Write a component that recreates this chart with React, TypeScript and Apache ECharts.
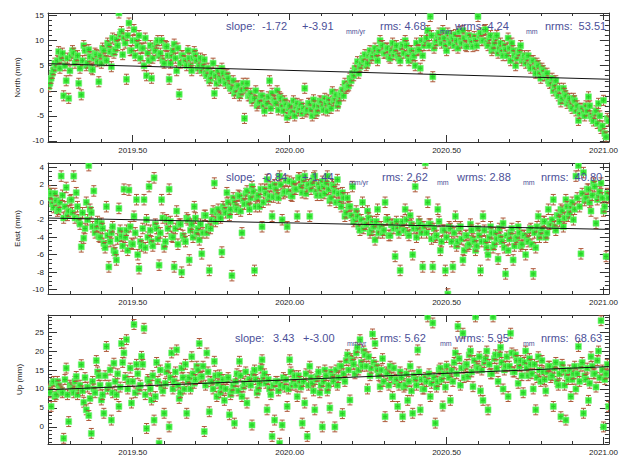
import React, { useEffect, useRef } from 'react';
import * as echarts from 'echarts';

// ---- time sampling (decimal years) ----
const T0 = 2019.232;
const STEP = 0.008;
const X_MIN = 2019.23;
const X_MAX = 2021.017;

const xTickValues = [2019.5, 2020.0, 2020.5, 2021.0];
const xMinorValues = [2019.3, 2019.4, 2019.6, 2019.7, 2019.8, 2019.9, 2020.1, 2020.2, 2020.3, 2020.4, 2020.6, 2020.7, 2020.8, 2020.9];

// ---- North (mm): samples at T0 + k*STEP ----
const northValues = [
  0.8, 2.5, 4.2, 5.0, 7.8, 6.5, -1.0, 2.0, -1.5, 7.0,
  7.5, 6.2, 1.5, -0.8, 9.0, 5.0, 8.2, 4.5, 6.5, 7.2,
  1.8, 5.5, 8.0, 6.0, 9.0, 4.8, 7.5, 10.2, 15.5, 11.8,
  10.5, 2.3, 13.5, 8.0, 12.2, 10.0, 11.0, 8.5, 5.0, 3.0,
  6.0, 2.5, 8.5, 9.5, 7.0, 10.0, 5.5, 8.8, 2.3, 7.0,
  9.3, 4.0, -0.7, 7.0, 6.0, 5.0, 6.5, 4.0, 7.8, 6.0,
  5.0, 4.0, 6.2, 3.0, 2.0, 3.5, -0.5, 1.5, 2.5, 4.5,
  2.0, 3.2, 1.0, 0.5, -0.5, 0.8, -1.0, 0.2, -5.5, 1.5,
  -1.0, -2.0, -1.5, -3.0, -2.2, -1.0, -4.0, -2.5, 2.0, -0.5,
  -2.0, 0.0, -1.2, -3.0, -2.0, -5.3, -3.0, -4.2, -5.0, -2.5,
  -3.5, -4.5, 0.5, -3.8, -2.5, -5.0, -3.0, -4.0, -2.0, -3.2,
  -1.5, -4.0, -2.8, -0.2, -1.5, -3.0, -1.0, 0.2, 1.5, 0.8,
  2.5, 3.5, 4.5, 5.8, 4.8, 6.5, 7.2, 5.5, 8.0, 7.0,
  8.5, 6.0, 10.0, 9.0, 7.5, 8.5, 6.5, 9.5, 8.0, 7.0,
  6.0, 9.2, 10.0, 7.0, 8.0, 6.5, 5.0, 8.0, 4.5, 7.0,
  10.0, 12.0, 14.8, 2.8, 9.5, 11.0, 10.2, 12.0, 9.0, 11.5,
  9.5, 10.5, 11.2, 8.5, 10.0, 12.0, 9.0, 11.0, 10.2, 8.8,
  10.0, 14.8, 11.5, 10.0, 12.2, 9.0, 11.0, 8.5, 10.5, 7.5,
  9.5, 7.0, 8.2, 10.5, 6.0, 8.0, 5.0, 7.5, 9.0, 6.5,
  5.5, 7.0, 4.5, 6.0, 3.5, 5.0, 2.5, 4.0, 3.0, 2.0,
  1.5, 0.0, 2.0, -1.0, -2.2, 0.5, -1.0, -2.0, -3.0, -1.5,
  -4.0, -5.9, -3.5, -4.5, -3.0, -1.2, -5.0, -6.0, -4.0, -2.5,
  -7.5, -1.9, -9.2, -6.0,
];
// ---- North (mm): samples at T0 + STEP/2 + k*STEP ----
const northValuesB = [
  1.5, 3.5, 5.5, 6.0, 4.5, 7.5, 5.0, 6.5, 4.0, 8.0,
  5.5, 7.0, 4.5, 6.0, 8.0, 5.5, 6.8, 4.2, 7.5, 5.8,
  7.0, 8.5, 6.5, 9.5, 7.8, 10.5, 8.2, 9.0, 11.2, 7.2,
  9.5, 11.0, 8.0, 10.0, 7.0, 9.0, 6.5, 8.5, 10.5, 7.5,
  9.0, 6.5, 8.0, 10.0, 7.5, 6.0, 9.0, 7.0, 5.5, 8.0,
  6.5, 8.5, 5.5, 7.0, 6.0, 8.0, 5.0, 6.5, 7.0, 4.5,
  6.5, 5.0, 3.5, 4.5, 2.5, 5.5, 3.0, 4.0, 2.0, 3.5,
  1.5, 2.5, 0.5, 2.0, 0.0, 1.0, -0.5, 1.5, 0.5, -1.0,
  -0.5, -1.5, 0.0, -2.5, -1.0, -3.0, -2.0, -1.2, -3.5, -1.8,
  -2.5, -3.8, -1.5, -4.0, -2.8, -3.5, -4.5, -2.0, -3.2, -4.0,
  -2.8, -3.5, -4.2, -2.5, -3.8, -1.8, -4.5, -3.0, -2.2, -3.8,
  -2.5, -1.8, -3.5, -2.0, -0.8, -2.2, -0.5, -1.0, 0.5, 1.0,
  2.0, 3.0, 4.0, 3.5, 5.5, 6.0, 5.0, 7.0, 6.5, 7.8,
  7.0, 8.0, 9.0, 7.5, 8.5, 6.8, 8.0, 7.2, 9.0, 6.5,
  8.5, 7.5, 9.0, 6.0, 8.0, 7.0, 9.5, 8.2, 10.0, 9.0,
  10.5, 9.0, 11.0, 8.5, 10.0, 11.5, 9.5, 10.5, 8.0, 10.0,
  11.0, 9.0, 10.0, 11.8, 9.5, 10.5, 8.8, 11.0, 9.8, 10.8,
  9.0, 11.0, 10.0, 12.0, 9.5, 10.5, 8.0, 9.5, 11.0, 8.5,
  8.0, 9.0, 7.0, 8.5, 9.5, 7.0, 6.5, 8.0, 6.0, 7.0,
  6.5, 5.0, 6.0, 4.5, 5.5, 3.5, 4.5, 3.0, 3.5, 1.5,
  2.5, 1.0, -0.5, 0.5, -1.5, -0.5, -2.5, -1.5, -3.5, -2.0,
  -3.0, -4.5, -3.5, -5.0, -4.0, -3.0, -5.5, -4.5, -6.5, -5.0,
  -7.0, -8.5, -5.5,
];
const northTrend = [5.4, 2.3];
const northYTicks = [-10, -5, 0, 5, 10, 15];

// ---- East (mm) ----
const eastValues = [
  1.3, 1.0, -0.6, 0.2, -0.8, 3.0, -1.8, 1.7, -1.0, 0.3,
  3.0, 1.1, -2.0, -5.1, -4.1, 0.0, 4.2, -1.2, 1.3, -2.8,
  -3.9, -2.4, -4.7, -0.5, -7.4, -3.5, -5.5, -6.6, -0.7, -3.9,
  1.5, -3.2, 1.4, -4.7, -1.6, 0.3, -7.6, -5.0, 0.3, -2.0,
  1.8, -4.5, 2.8, -3.0, -7.2, 0.3, -5.1, -2.0, 1.5, -3.9,
  -7.4, -1.0, -2.5, -8.0, -4.2, -1.8, -6.6, -2.5, -0.5, -3.5,
  -4.3, -5.9, -1.5, -3.5, -7.8, -2.0, 2.2, -1.2, -1.6, -5.7,
  -0.8, 1.1, -1.5, -8.4, 0.0, -0.8, 0.7, -3.5, -0.2, 1.3,
  -0.8, 1.8, -7.8, 0.5, -0.5, -2.8, 1.5, 2.6, 0.7, -1.6,
  2.0, 0.8, 3.0, -2.0, 1.2, -2.8, 2.4, 0.7, 1.5, -1.6,
  2.8, 1.1, 3.0, 1.8, -1.6, 2.2, 3.0, 0.8, 1.6, 2.4,
  1.0, 3.0, 0.2, 2.0, 1.2, 2.6, 0.0, 1.1, -1.6, 0.5,
  -0.5, 1.8, -2.0, -1.6, -3.2, 0.0, -2.5, -1.0, -3.5, -2.2,
  -4.3, -0.8, -2.8, -3.5, 0.0, -2.0, -3.8, -2.5, -6.2, -3.0,
  -7.8, -2.2, -0.8, -3.5, -1.5, -6.0, 1.8, -3.0, -2.5, -7.4,
  4.5, 0.0, -2.5, -7.4, -4.0, -0.8, -5.5, -3.2, -7.8, -10.5,
  -3.0, -7.4, -1.6, -4.5, -2.8, -6.6, -3.8, -5.0, -2.5, -4.2,
  -5.5, -3.0, -7.8, -1.6, -4.5, -6.0, -2.8, -5.2, -3.5, -6.5,
  -4.0, -2.4, -8.2, -5.5, -3.5, -6.6, -4.2, -2.8, -5.0, -3.8,
  -6.0, -4.5, -3.0, -8.2, -5.2, -1.6, -3.5, -2.2, -4.0, -0.8,
  -2.5, 0.3, -3.2, -1.5, -0.8, -2.8, 0.3, -1.6, -0.5, -2.0,
  3.0, 4.2, -5.9, 3.4, 0.5, 1.5, -1.0, 2.2, -2.4, 0.8,
  2.2, -1.0, -6.2, 0.5,
];
const eastValuesB = [
  0.5, -0.2, 1.0, -1.0, 0.0, 0.8, -0.5, -1.5, 0.2, -1.2,
  -1.8, -0.5, -2.5, -1.2, -3.0, -2.0, -0.8, -2.8, -3.5, -2.2,
  -4.0, -3.0, -5.2, -3.8, -4.5, -2.8, -5.8, -4.2, -3.2, -5.0,
  -4.0, -5.5, -2.8, -4.8, -3.5, -6.0, -4.5, -3.0, -5.2, -4.0,
  -3.2, -5.0, -2.5, -4.2, -3.5, -1.8, -4.5, -3.0, -2.2, -4.0,
  -3.0, -4.8, -2.5, -3.8, -4.5, -2.0, -3.2, -4.0, -1.8, -3.0,
  -2.5, -3.5, -1.5, -2.8, -3.0, -1.0, -2.2, -0.8, -1.8, -0.5,
  -1.2, 0.0, -0.8, 0.5, -0.5, 0.8, -1.0, 0.2, 1.0, -0.2,
  0.5, 1.2, -0.5, 0.8, 1.5, 0.0, 1.0, 0.3, 1.8, 0.6,
  1.5, 0.5, 2.0, 1.0, 2.5, 1.2, 0.8, 2.2, 1.5, 2.8,
  1.8, 2.5, 1.0, 2.0, 1.5, 2.8, 1.2, 2.0, 0.8, 1.8,
  2.2, 1.5, 0.5, 1.8, 0.0, 1.0, -0.5, 0.5, -1.2, -0.5,
  -1.5, -2.2, -1.0, -2.8, -2.0, -3.0, -2.5, -1.8, -3.2, -2.8,
  -2.2, -3.5, -2.8, -3.2, -2.0, -3.8, -2.6, -3.0, -2.2, -3.5,
  -2.8, -3.2, -2.0, -3.8, -2.5, -3.0, -4.0, -2.2, -3.5, -2.8,
  -3.5, -2.5, -4.2, -3.0, -3.8, -2.2, -4.5, -3.2, -4.0, -2.8,
  -4.5, -3.5, -5.0, -3.0, -4.2, -5.5, -3.8, -4.8, -3.2, -4.5,
  -5.0, -3.8, -4.5, -3.2, -5.2, -4.0, -3.5, -4.8, -4.2, -3.0,
  -4.5, -5.2, -3.8, -4.2, -3.0, -5.0, -4.0, -3.5, -4.8, -3.8,
  -4.2, -3.2, -4.8, -3.5, -2.8, -4.0, -3.0, -2.2, -3.5, -2.5,
  -2.0, -2.8, -1.5, -2.2, -1.0, -1.8, -0.5, -1.2, 0.0, -0.8,
  0.5, -0.5, 1.0, 0.2, 1.5, 0.0, 0.8, 1.8, 0.3, 1.2,
  0.5, -0.5, 1.0,
];
const eastTrend = [-1.8, -3.1];
const eastYTicks = [-10, -8, -6, -4, -2, 0, 2, 4];

// ---- Up (mm) ----
const upValues = [
  10.0, 5.4, 12.0, 8.5, 11.0, 9.5, -3.0, 15.5, 1.4, 10.5,
  9.0, 13.3, 10.2, 16.4, 6.5, 4.5, 3.0, -1.7, 10.0, 17.5,
  13.5, 7.1, 3.6, 21.2, 11.0, 1.8, 16.8, 8.5, 5.4, 22.0,
  19.5, 23.0, 12.0, 6.3, 27.0, 16.5, 10.0, 18.6, 26.0, -0.4,
  12.0, 7.1, 1.8, 17.0, -4.3, 10.5, 3.6, 14.5, 0.0, 19.5,
  12.0, 20.3, 7.5, 15.5, 10.0, 3.6, 13.0, 18.5, 11.5, 16.0,
  22.0, 13.3, -1.2, 19.5, 4.0, 12.0, 17.3, 8.0, 13.7, 10.5,
  7.0, 12.5, 3.2, 9.5, 1.0, 14.0, 17.3, 8.0, 11.5, 6.3,
  12.5, 0.5, 15.0, 9.0, 11.5, 17.7, 14.0, 4.5, 10.0, -2.5,
  1.8, 12.0, -4.3, 0.5, 10.5, 5.4, 17.7, 11.0, 13.5, 8.0,
  12.0, 1.0, 6.3, -2.5, 16.0, 11.5, 4.5, 13.3, 9.0, 0.0,
  15.0, 9.5, 5.0, 13.3, 0.0, 11.0, 16.0, 3.5, 12.0, 19.0,
  7.1, 17.5, 14.0, 21.0, 23.0, 16.0, 19.0, 10.0, 13.5, 24.5,
  22.0, 15.0, 10.6, 18.0, 2.7, 14.0, 16.0, 8.0, 12.0, 5.4,
  14.5, 2.7, 11.0, 7.0, 16.0, 3.6, 12.5, 20.3, 4.5, 10.0,
  13.0, 29.0, 8.0, 27.4, 1.0, 12.0, 15.5, 5.5, 10.5, 14.0,
  7.0, 12.0, 19.5, 26.5, 11.0, 24.7, 16.0, 13.3, 20.0, 10.6,
  29.0, 15.5, 9.5, 7.0, 18.0, 4.5, 14.0, 29.0, 19.0, 12.0,
  21.0, 10.0, 16.0, 8.0, 24.7, 14.5, 19.0, 11.5, 17.5, 9.0,
  20.0, 13.5, 16.5, 10.0, 4.5, 18.5, 12.0, 14.5, 9.5, 16.0,
  13.0, 5.4, 17.0, 11.0, 2.7, 15.0, 1.8, 12.5, 8.0, 14.0,
  10.0, 21.2, 16.0, 3.6, 12.5, 7.0, 18.5, 14.0, 10.5, 20.0,
  28.0, 0.0, 14.0, 5.4,
];
const upValuesB = [
  9.0, 11.5, 8.0, 12.0, 10.0, 9.0, 12.5, 8.5, 11.0, 10.0,
  12.0, 8.5, 11.0, 9.5, 13.0, 10.5, 7.5, 12.0, 9.0, 14.5,
  11.0, 8.5, 13.5, 10.0, 15.0, 9.0, 12.0, 14.0, 10.5, 17.0,
  13.0, 10.0, 15.5, 12.0, 9.0, 14.0, 11.0, 16.5, 8.5, 12.5,
  10.0, 13.5, 8.0, 12.0, 15.0, 9.5, 11.5, 16.0, 13.0, 10.0,
  14.5, 11.0, 9.0, 13.0, 16.5, 12.0, 10.0, 14.0, 12.5, 15.0,
  13.0, 16.0, 11.0, 14.5, 12.0, 10.0, 13.5, 11.5, 9.0, 12.5,
  10.0, 13.0, 8.5, 11.0, 12.0, 9.5, 13.5, 10.5, 14.5, 12.0,
  11.0, 14.0, 12.5, 10.0, 15.5, 13.0, 11.5, 12.5, 8.5, 11.0,
  12.0, 9.5, 11.0, 13.0, 12.5, 10.0, 14.5, 12.0, 11.0, 13.5,
  10.5, 12.0, 14.0, 11.0, 13.0, 9.5, 12.5, 14.5, 11.0, 12.0,
  13.5, 11.0, 14.5, 12.0, 15.0, 13.0, 16.0, 14.0, 17.5, 15.0,
  18.0, 16.5, 19.5, 15.0, 17.0, 20.0, 16.0, 18.5, 15.5, 17.0,
  16.0, 13.5, 15.0, 12.0, 14.5, 11.0, 13.0, 15.5, 12.5, 11.0,
  13.0, 10.5, 14.0, 12.0, 9.5, 13.5, 11.0, 14.5, 12.5, 10.0,
  12.0, 14.0, 11.5, 13.0, 10.5, 15.0, 12.5, 14.0, 16.0, 13.0,
  15.0, 17.0, 14.0, 18.0, 15.5, 13.0, 16.5, 19.0, 14.5, 17.5,
  16.0, 18.5, 15.0, 17.0, 20.0, 16.5, 14.0, 18.0, 15.5, 19.0,
  17.0, 15.0, 18.5, 16.0, 19.5, 14.5, 17.5, 16.0, 13.5, 17.0,
  15.5, 18.0, 14.0, 16.5, 13.0, 15.0, 17.5, 12.5, 14.5, 16.0,
  13.5, 15.5, 12.0, 14.0, 16.5, 11.0, 13.5, 15.0, 12.5, 16.0,
  14.0, 12.0, 17.0, 13.5, 15.5, 11.5, 16.0, 14.0, 17.5, 13.0,
  15.0, 12.5, 16.5,
];
const upTrend = [9.8, 15.9];
const upYTicks = [0, 5, 10, 15, 20, 25];

// error bar half-heights (mm)
const errorHalf = [1.0, 0.6, 1.3];

// annotation texts
const northNote = ['slope:', '-1.72', '+-3.91', 'mm/yr', 'rms: 4.68', 'mm', 'wrms: 4.24', 'mm', 'nrms:  53.51'];
const eastNote = ['slope:', '-0.84', '+-1.44', 'mm/yr', 'rms: 2.62', 'mm', 'wrms: 2.88', 'mm', 'nrms:  40.80'];
const upNote = ['slope:', '3.43', '+-3.00', 'mm/yr', 'rms: 5.62', 'mm', 'wrms: 5.95', 'mm', 'nrms:  68.63'];

const FONT = 'Liberation Sans, Arial, sans-serif';
const NOTE_COLOR = '#4b4f98';
const AXIS_COLOR = '#333333';

function range(a: number, b: number, s: number, skip: number[]) {
  const out: number[] = [];
  for (let v = a; v <= b + 1e-9; v += s) {
    const r = Math.round(v * 100) / 100;
    if (!skip.some((k) => Math.abs(k - r) < 1e-6)) out.push(r);
  }
  return out;
}

const panels = [
  { values: northValues, valuesB: northValuesB, trend: northTrend, ticks: northYTicks, minorStep: 1, yMin: -10.2, yMax: 15.5, name: 'North (mm)', top: 13, height: 129, note: northNote, noteX: [226, 262, 302, 346, 380, 440, 455, 526, 545], noteY: 26, err: errorHalf[0] },
  { values: eastValues, valuesB: eastValuesB, trend: eastTrend, ticks: eastYTicks, minorStep: 0.5, yMin: -10.5, yMax: 4.5, name: 'East (mm)', top: 163, height: 131, note: eastNote, noteX: [226, 262, 302, 349, 382, 437, 457, 523, 541], noteY: 177, err: errorHalf[1] },
  { values: upValues, valuesB: upValuesB, trend: upTrend, ticks: upYTicks, minorStep: 1, yMin: -4.5, yMax: 29.5, name: 'Up (mm)', top: 315, height: 129, note: upNote, noteX: [235, 273, 303, 347, 380, 440, 455, 523, 541], noteY: 338, err: errorHalf[2] },
];

function renderPoint(params: any, api: any) {
  const x = api.value(0);
  const y = api.value(1);
  const e = api.value(2);
  const c = api.coord([x, y]);
  const t = api.coord([x, y + e]);
  const b = api.coord([x, y - e]);
  const cx = c[0];
  const cy = c[1];
  return {
    type: 'group',
    children: [
      { type: 'line', shape: { x1: cx, y1: t[1], x2: cx, y2: b[1] }, style: { stroke: '#a8603e', lineWidth: 1 } },
      { type: 'line', shape: { x1: cx - 2.5, y1: t[1], x2: cx + 2.5, y2: t[1] }, style: { stroke: '#b0583a', lineWidth: 1 } },
      { type: 'line', shape: { x1: cx - 2.5, y1: b[1], x2: cx + 2.5, y2: b[1] }, style: { stroke: '#b0583a', lineWidth: 1 } },
      { type: 'rect', shape: { x: cx - 3, y: cy - 3, width: 6, height: 6 }, style: { fill: '#3cee3c', stroke: '#7cf07c', lineWidth: 0.6 } },
      { type: 'line', shape: { x1: cx - 2, y1: cy, x2: cx + 2, y2: cy }, style: { stroke: '#2ac82a', lineWidth: 1 } },
      { type: 'line', shape: { x1: cx, y1: cy - 2, x2: cx, y2: cy + 2 }, style: { stroke: '#2ac82a', lineWidth: 1 } },
    ],
  };
}

export default function App() {
  const ref = useRef<HTMLDivElement>(null);
  useEffect(() => {
    document.body.style.margin = '0';
    if (!ref.current) return;
    const chart = echarts.init(ref.current, undefined, { renderer: 'svg' });

    const grid: any[] = [];
    const xAxis: any[] = [];
    const yAxis: any[] = [];
    const series: any[] = [];
    const graphic: any[] = [];

    panels.forEach((p, i) => {
      grid.push({ left: 48, right: 9, top: p.top, height: p.height });
      const baseX = { gridIndex: i, type: 'value', min: X_MIN, max: X_MAX, splitLine: { show: false } };
      xAxis.push({
        ...baseX, position: 'bottom',
        axisLine: { show: true, onZero: false, lineStyle: { color: AXIS_COLOR, width: 1 } },
        axisTick: { show: true, inside: true, length: 7, customValues: xTickValues, lineStyle: { color: AXIS_COLOR } },
        axisLabel: { show: true, customValues: xTickValues, formatter: (v: number) => v.toFixed(2), fontSize: 8, color: '#222', fontFamily: FONT, margin: 4 },
      });
      xAxis.push({
        ...baseX, position: 'bottom',
        axisLine: { show: false, onZero: false },
        axisTick: { show: true, inside: true, length: 3, customValues: xMinorValues, lineStyle: { color: AXIS_COLOR } },
        axisLabel: { show: false },
      });
      xAxis.push({
        ...baseX, position: 'top',
        axisLine: { show: true, onZero: false, lineStyle: { color: AXIS_COLOR, width: 1 } },
        axisTick: { show: true, inside: true, length: 7, customValues: xTickValues, lineStyle: { color: AXIS_COLOR } },
        axisLabel: { show: false },
      });
      xAxis.push({
        ...baseX, position: 'top',
        axisLine: { show: false, onZero: false },
        axisTick: { show: true, inside: true, length: 3, customValues: xMinorValues, lineStyle: { color: AXIS_COLOR } },
        axisLabel: { show: false },
      });

      const minor = range(Math.ceil(p.yMin), Math.floor(p.yMax), p.minorStep, p.ticks);
      const baseY = { gridIndex: i, type: 'value', min: p.yMin, max: p.yMax, splitLine: { show: false } };
      yAxis.push({
        ...baseY, position: 'left',
        name: p.name, nameLocation: 'middle', nameGap: 25,
        nameTextStyle: { fontSize: 8, color: '#222', fontFamily: FONT },
        axisLine: { show: true, onZero: false, lineStyle: { color: AXIS_COLOR, width: 1 } },
        axisTick: { show: true, inside: true, length: 9, customValues: p.ticks, lineStyle: { color: AXIS_COLOR } },
        axisLabel: { show: true, customValues: p.ticks, fontSize: 8, color: '#222', fontFamily: FONT, margin: 4 },
      });
      yAxis.push({
        ...baseY, position: 'left',
        axisLine: { show: false, onZero: false },
        axisTick: { show: true, inside: true, length: 4, customValues: minor, lineStyle: { color: AXIS_COLOR } },
        axisLabel: { show: false },
      });
      yAxis.push({
        ...baseY, position: 'right',
        axisLine: { show: true, onZero: false, lineStyle: { color: AXIS_COLOR, width: 1 } },
        axisTick: { show: true, inside: true, length: 9, customValues: p.ticks, lineStyle: { color: AXIS_COLOR } },
        axisLabel: { show: false },
      });
      yAxis.push({
        ...baseY, position: 'right',
        axisLine: { show: false, onZero: false },
        axisTick: { show: true, inside: true, length: 4, customValues: minor, lineStyle: { color: AXIS_COLOR } },
        axisLabel: { show: false },
      });

      const data: number[][] = [];
      p.values.forEach((v, k) => data.push([T0 + k * STEP, v, p.err]));
      p.valuesB.forEach((v, k) => data.push([T0 + STEP / 2 + k * STEP, v, p.err]));
      data.sort((a, b) => a[0] - b[0]);
      series.push({
        type: 'custom',
        xAxisIndex: i * 4, yAxisIndex: i * 4,
        clip: true,
        data,
        renderItem: renderPoint,
        z: 2,
      });
      series.push({
        type: 'line',
        xAxisIndex: i * 4, yAxisIndex: i * 4,
        data: [[X_MIN, p.trend[0]], [X_MAX, p.trend[1]]],
        symbol: 'none',
        lineStyle: { color: '#111', width: 1 },
        z: 3,
      });

      p.note.forEach((txt, j) => {
        const sub = j === 3 || j === 5 || j === 7;
        graphic.push({
          type: 'text',
          left: p.noteX[j],
          top: sub ? p.noteY + 2 : p.noteY - 6,
          z: 10,
          style: {
            text: txt,
            fontSize: sub ? 7 : 11,
            fontFamily: FONT,
            fill: NOTE_COLOR,
          },
        });
      });
    });

    chart.setOption({
      animation: false,
      backgroundColor: '#ffffff',
      grid,
      xAxis,
      yAxis,
      series,
      graphic,
    });
    return () => chart.dispose();
  }, []);
  return <div ref={ref} style={{ width: 621, height: 457 }} />;
}
